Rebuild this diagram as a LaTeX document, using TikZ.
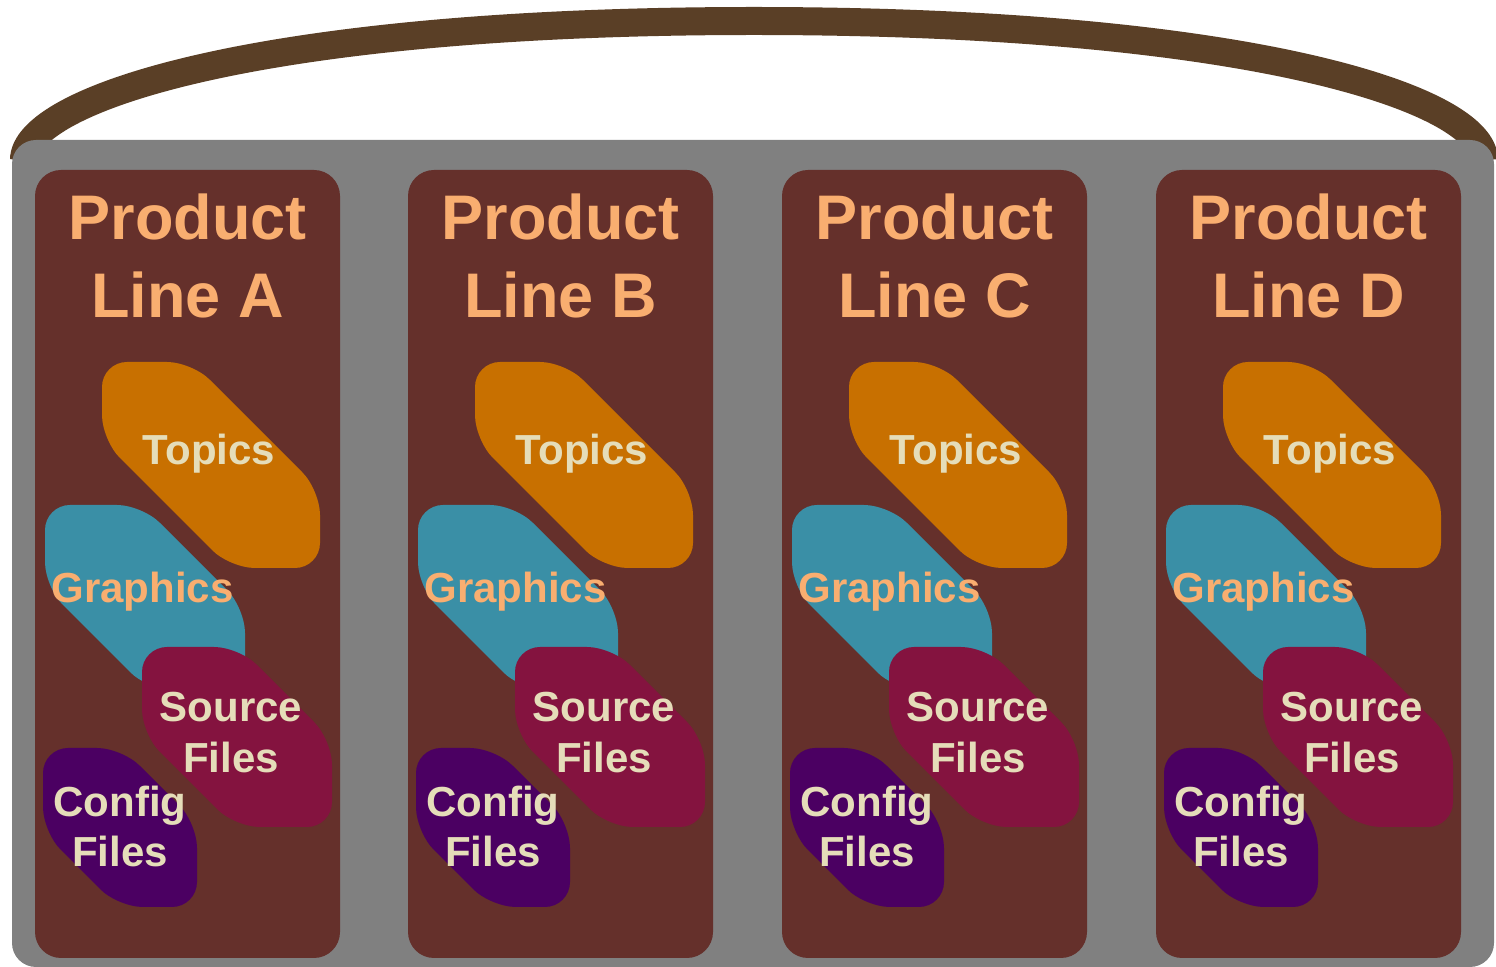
\documentclass[tikz,border=0pt]{standalone}
\usepackage{fontspec}
\setmainfont{Liberation Sans}
\definecolor{handlebrown}{HTML}{5A3F26}
\definecolor{boxgray}{HTML}{808080}
\definecolor{colbrown}{HTML}{65302B}
\definecolor{topicsorange}{HTML}{C87000}
\definecolor{graphteal}{HTML}{3A8FA6}
\definecolor{srccrimson}{HTML}{84133F}
\definecolor{cfgpurple}{HTML}{4B0062}
\definecolor{lightorange}{HTML}{F9AE70}
\definecolor{cream}{HTML}{E5DDB9}
\newcommand\snipshape[6]{%
  \fill[#1,rounded corners=12.5pt] (#2,#3) -- ({#4-#6},#3) -- (#4,{#3+#6}) -- (#4,#5) -- ({#2+#6},#5) -- (#2,{#5-#6}) -- cycle;}
\tikzset{
  titletext/.style={text=lightorange,font=\fontsize{31.5}{39}\selectfont\bfseries,inner sep=0pt,anchor=base},
  itemtext/.style={text=cream,font=\fontsize{21}{26}\selectfont\bfseries,inner sep=0pt,anchor=base},
  graphtext/.style={text=lightorange,font=\fontsize{21}{26}\selectfont\bfseries,inner sep=0pt,anchor=base},
}
\begin{document}
\begin{tikzpicture}[x=0.5pt,y=-0.5pt]
\useasboundingbox (0,0) rectangle (1496,967);
\draw[handlebrown,line width=14pt] (24,160) .. controls (24,100) and (254,21) .. (754,21) .. controls (1254,21) and (1484,100) .. (1484,160);
\fill[boxgray,rounded corners=12pt] (12,140) rectangle (1494,967);
\foreach \o/\L in {0/A,373/B,747/C,1121/D}{
  \begin{scope}[shift={(\o,0)}]
    \fill[colbrown,rounded corners=13pt] (35,170) rectangle (340,958);
    \node[titletext] (p\L) at (187.5,240) {Product};
    \node[titletext] (l\L) at (187.5,318) {Line \L};
    \snipshape{topicsorange}{102}{362}{320}{568}{128}
    \node[itemtext] (t\L) at (209,465) {Topics};
    \snipshape{graphteal}{45}{505}{245}{690}{103}
    \node[graphtext] (g\L) at (142.5,603) {Graphics};
    \snipshape{srccrimson}{142}{647}{332}{827}{93}
    \node[itemtext] (s\L) at (231,722) {Source};
    \node[itemtext] (f\L) at (231,773) {Files};
    \snipshape{cfgpurple}{43}{748}{197}{907}{75}
    \node[itemtext] (c\L) at (120,817) {Config};
    \node[itemtext] (h\L) at (120,867) {Files};
  \end{scope}
}
\end{tikzpicture}
\end{document}
